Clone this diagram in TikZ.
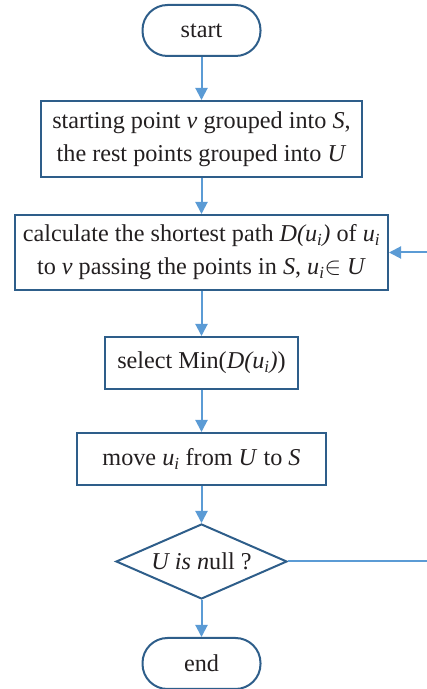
\documentclass[tikz,border=0pt]{standalone}
\usepackage{fontspec}
\setmainfont{Liberation Serif}
\usetikzlibrary{arrows.meta,shapes.geometric}
\definecolor{bordc}{RGB}{46,94,138}
\definecolor{arrc}{RGB}{91,155,213}
\definecolor{txtc}{RGB}{35,31,32}
\tikzset{
  base/.style={draw=bordc,line width=2pt,text=txtc,align=center,inner sep=0pt,font=\fontsize{24.2}{33}\selectfont},
  procbox/.style={base,rectangle},
  termbox/.style={base,rectangle,rounded corners=25pt,minimum width=118pt,minimum height=51pt},
  decbox/.style={base,diamond,aspect=2.28,minimum width=171pt,minimum height=75pt},
  conn/.style={draw=arrc,line width=2pt,-{Triangle[width=12pt,length=12pt]}},
}
\newcommand{\ui}{\textit{u}\textsubscript{\textit{i}}}
\begin{document}
\begin{tikzpicture}[x=1pt,y=1pt]
\useasboundingbox (0,0) rectangle (427,689);
\node[termbox] (start) at (201.5,658.5) {start};
\node[procbox,minimum width=321pt,minimum height=76pt] (b1) at (201.5,550) {starting point \textit{v} grouped into \textit{S},\\ the rest points grouped into \textit{U}};
\node[procbox,minimum width=373pt,minimum height=75pt] (b2) at (201.5,436.5) {calculate the shortest path \textit{D(\ui)} of \ui\\to \textit{v} passing the points in \textit{S}, \ui$\in$ \textit{U}};
\node[procbox,minimum width=193pt,minimum height=52pt] (b3) at (201.5,326) {select Min(\textit{D(\ui)})};
\node[procbox,minimum width=249pt,minimum height=52pt] (b4) at (201.5,230) {move \ui{} from \textit{U} to \textit{S}};
\node[decbox] (dec) at (201.5,127.5) {\textit{U is n}ull ?};
\node[termbox] (end) at (201.5,25.5) {end};
\coordinate (c1) at (430,127.5);
\coordinate (c2) at (430,436.5);
\draw[conn] (start) -- (b1);
\draw[conn] (b1) -- (b2);
\draw[conn] (b2) -- (b3);
\draw[conn] (b3) -- (b4);
\draw[conn] (b4) -- (dec);
\draw[conn] (dec) -- (end);
\draw[conn] (dec.east) -- (c1) -- (c2) -- (b2.east);
\end{tikzpicture}
\end{document}
